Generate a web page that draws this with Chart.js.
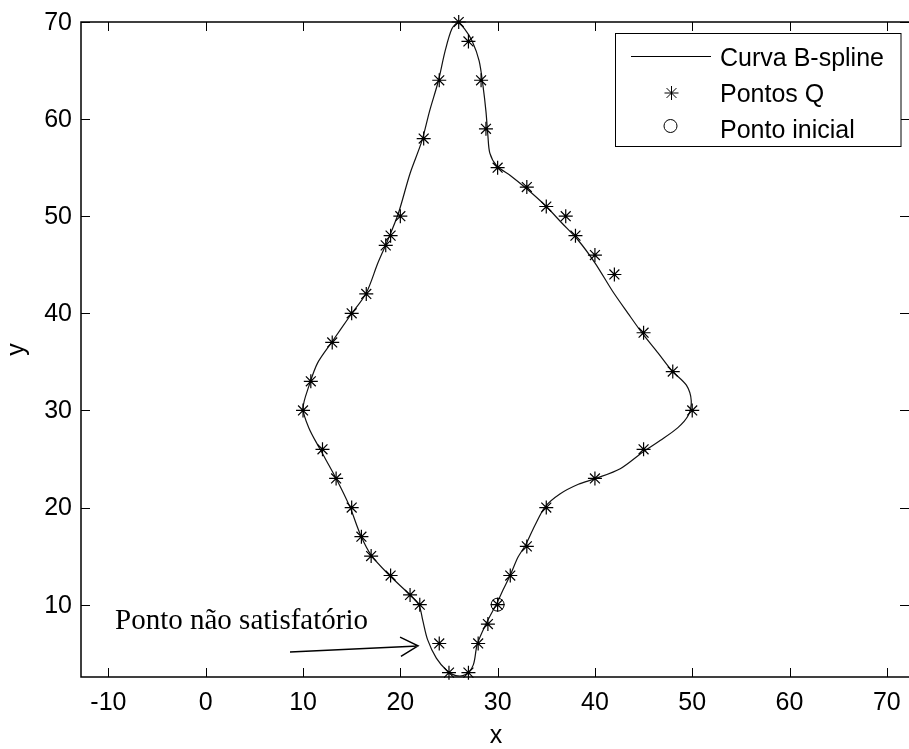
<!DOCTYPE html>
<html>
<head>
<meta charset="utf-8">
<script src="https://cdn.jsdelivr.net/npm/chart.js@4.4.1/dist/chart.umd.min.js"></script>
<style>
  html, body { margin: 0; padding: 0; background: #fff; overflow: hidden; }
  canvas { display: block; }
</style>
</head>
<body>
<canvas id="c" width="909" height="749"></canvas>
<script>
// Sampled points Q (asterisks), in the order they are visited around the contour
const qX = [30, 31.3, 33, 35, 40, 45, 50, 48, 45, 42, 40, 38, 37, 35, 33, 30, 28.8, 28.3, 27, 26,
            24, 22.4, 20, 19, 18.5, 16.5, 15, 13, 10.8, 10, 12, 13.4, 15, 16, 17, 19, 21, 22,
            24, 25, 27, 28, 29];
const qY = [10, 13, 16, 20, 23, 26, 30, 34, 38, 44, 46, 48, 50, 51, 53, 55, 59, 64, 68, 70,
            64, 58, 50, 48, 47, 42, 40, 37, 33, 30, 26, 23, 20, 17, 15, 13, 11, 10,
            6, 3, 3, 6, 8];

// Fitted closed B-spline curve
const curveX = [29.9, 30.55, 31.3, 32.1, 32.9, 33.8, 34.9, 36.4, 38.3, 40.1, 42.6, 44.9, 46.7, 48.5,
                49.6, 49.9, 49.4, 47.9, 46.5, 44.9, 43.4, 41.8, 40.0, 38.3, 36.6, 34.9, 32.9, 31.3,
                29.9, 29.2, 29.0, 28.8, 28.5, 28.1, 27.4, 26.6, 25.9, 25.3, 24.6, 23.9, 23.0, 22.2,
                21.0, 19.8, 18.7, 17.7, 16.5, 14.8, 13.0, 11.5, 10.6, 10.0, 10.6, 11.7, 13.4, 14.8,
                15.9, 17.0, 18.9, 20.9, 21.9, 22.3, 22.8, 23.7, 24.8, 25.7, 26.7, 27.5, 27.9, 28.8,
                29.9];
const curveY = [10.1, 11.5, 13.05, 14.9, 16.2, 18.1, 20.1, 21.4, 22.4, 23.0, 24.0, 25.7, 26.9, 28.2,
                29.5, 31.0, 32.6, 34.1, 35.9, 37.9, 40.0, 42.3, 45.2, 47.5, 49.3, 51.1, 52.9, 54.2,
                55.2, 56.5, 58.3, 60.8, 63.4, 66.0, 68.0, 69.3, 69.9, 69.3, 67.0, 63.9, 60.8, 57.7,
                54.4, 50.3, 47.5, 45.2, 42.1, 39.7, 37.1, 34.9, 32.5, 30.2, 28.2, 26.1, 23.0, 20.1,
                17.2, 15.1, 13.0, 11.1, 10.0, 8.4, 6.4, 4.5, 3.2, 2.7, 2.8, 3.8, 5.9, 8.0,
                10.1];

// Starting point of the contour
const startX = [30];
const startY = [10];

const xTicks = [-10, 0, 10, 20, 30, 40, 50, 60, 70];
const yTicks = [10, 20, 30, 40, 50, 60, 70];
const seriesNames = ['Curva B-spline', 'Pontos Q', 'Ponto inicial'];
const noteText = 'Ponto não satisfatório';

const toPts = (xs, ys) => xs.map((v, i) => ({ x: v, y: ys[i] }));

const SANS = '"Liberation Sans", Arial, sans-serif';
const SERIF = '"Liberation Serif", "Times New Roman", serif';

// Axes box with inward ticks on all four sides, labels, legend and the note arrow
const framePlugin = {
  id: 'frame',
  afterDraw(chart) {
    const { ctx, chartArea: a, scales: { x, y } } = chart;
    ctx.save();
    ctx.strokeStyle = '#000';
    ctx.fillStyle = '#000';

    // box
    ctx.lineWidth = 1.5;
    ctx.strokeRect(a.left, a.top, a.right - a.left + 3, a.bottom - a.top);

    // ticks
    ctx.lineWidth = 1;
    const tl = 9;
    ctx.beginPath();
    xTicks.forEach(v => {
      const px = Math.round(x.getPixelForValue(v)) + 0.5;
      ctx.moveTo(px, a.bottom); ctx.lineTo(px, a.bottom - tl);
      ctx.moveTo(px, a.top); ctx.lineTo(px, a.top + tl);
    });
    yTicks.forEach(v => {
      const py = Math.round(y.getPixelForValue(v)) + 0.5;
      ctx.moveTo(a.left, py); ctx.lineTo(a.left + tl, py);
      ctx.moveTo(a.right, py); ctx.lineTo(a.right - tl, py);
    });
    ctx.stroke();

    // tick labels
    ctx.font = '25px ' + SANS;
    ctx.textAlign = 'center';
    ctx.textBaseline = 'alphabetic';
    xTicks.forEach(v => ctx.fillText(String(v), x.getPixelForValue(v), a.bottom + 33));
    ctx.textAlign = 'right';
    ctx.textBaseline = 'middle';
    yTicks.forEach(v => ctx.fillText(String(v), a.left - 9, y.getPixelForValue(v) + 1));

    // axis titles
    ctx.textAlign = 'center';
    ctx.textBaseline = 'alphabetic';
    ctx.fillText('x', (a.left + a.right) / 2 + 1, a.bottom + 66);
    ctx.save();
    ctx.translate(24, (a.top + a.bottom) / 2);
    ctx.rotate(-Math.PI / 2);
    ctx.fillText('y', 0, 0);
    ctx.restore();

    // legend
    const lx = 615.5, ly = 33.5, lw = 285.5, lh = 113;
    ctx.fillStyle = '#fff';
    ctx.fillRect(lx, ly, lw, lh);
    ctx.lineWidth = 1;
    ctx.strokeRect(lx, ly, lw, lh);
    ctx.beginPath();
    ctx.moveTo(631, 56.5); ctx.lineTo(711, 56.5);
    ctx.stroke();
    ctx.fillStyle = 'rgba(0,0,0,0)';
    Chart.helpers.drawPoint(ctx, { pointStyle: 'star', radius: 7, borderWidth: 1, rotation: 0 }, 671.5, 93);
    Chart.helpers.drawPoint(ctx, { pointStyle: 'circle', radius: 6.5, borderWidth: 1, rotation: 0 }, 670.5, 126);
    ctx.fillStyle = '#000';
    ctx.font = '25px ' + SANS;
    ctx.textAlign = 'left';
    ctx.textBaseline = 'alphabetic';
    ctx.fillText(seriesNames[0], 720, 66);
    ctx.fillText(seriesNames[1], 720, 102);
    ctx.fillText(seriesNames[2], 720, 137.5);

    // note with arrow
    ctx.font = '29px ' + SERIF;
    ctx.fillText(noteText, x.getPixelForValue(-9.32), y.getPixelForValue(7.47));
    const tx = x.getPixelForValue(8.66), ty = y.getPixelForValue(5.13);
    const hx = x.getPixelForValue(21.82), hy = y.getPixelForValue(5.75);
    ctx.lineWidth = 1.5;
    ctx.beginPath();
    ctx.moveTo(tx, ty); ctx.lineTo(hx, hy);
    const ang = Math.atan2(hy - ty, hx - tx);
    const hl = 20, ha = 0.5;
    ctx.moveTo(hx - hl * Math.cos(ang - ha), hy - hl * Math.sin(ang - ha));
    ctx.lineTo(hx, hy);
    ctx.lineTo(hx - hl * Math.cos(ang + ha), hy - hl * Math.sin(ang + ha));
    ctx.stroke();

    ctx.restore();
  }
};

new Chart(document.getElementById('c'), {
  type: 'scatter',
  data: {
    datasets: [
      {
        label: seriesNames[2],
        data: toPts(startX, startY),
        pointStyle: 'circle',
        pointRadius: 6.5,
        borderColor: '#000',
        borderWidth: 1,
        backgroundColor: 'rgba(0,0,0,0)',
        clip: false
      },
      {
        label: seriesNames[1],
        data: toPts(qX, qY),
        pointStyle: 'star',
        pointRadius: 7,
        borderColor: '#000',
        borderWidth: 1.2,
        backgroundColor: 'rgba(0,0,0,0)',
        clip: false
      },
      {
        label: seriesNames[0],
        data: toPts(curveX, curveY),
        showLine: true,
        pointRadius: 0,
        borderColor: '#111',
        borderWidth: 1.2,
        tension: 0.3,
        fill: false,
        clip: false
      }
    ]
  },
  options: {
    responsive: false,
    animation: false,
    devicePixelRatio: 1,
    layout: { autoPadding: false, padding: { left: 81, top: 22, right: 0, bottom: 72 } },
    plugins: { legend: { display: false }, tooltip: { enabled: false } },
    scales: {
      x: { type: 'linear', min: -12.82, max: 72.28, display: false },
      y: { type: 'linear', min: 2.55, max: 70, display: false }
    }
  },
  plugins: [framePlugin]
});
</script>
</body>
</html>
